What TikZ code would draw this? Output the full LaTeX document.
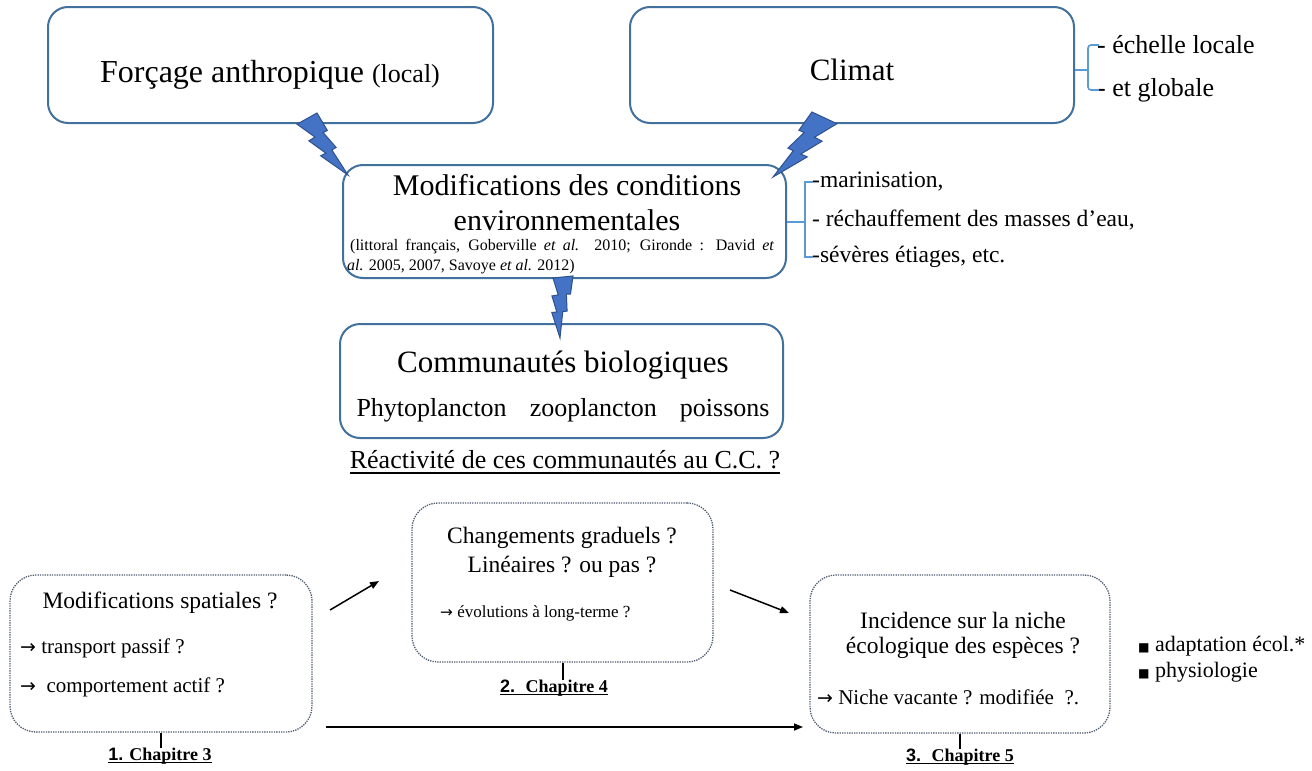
\documentclass[tikz,border=0pt]{standalone}
\usepackage{fontspec}
\setmainfont{Liberation Serif}
\newfontfamily\djv{DejaVu Sans}
\newfontfamily\arl{Liberation Sans}
\usetikzlibrary{arrows.meta,calc}
\definecolor{boxblue}{RGB}{65,113,156}
\definecolor{boltfill}{RGB}{68,114,196}
\definecolor{boltline}{RGB}{47,82,143}
\definecolor{brkblue}{RGB}{91,155,213}
\definecolor{dotgray}{RGB}{80,92,112}
\newcommand\fz[1]{\fontsize{#1pt}{#1pt}\selectfont}
\newcommand\ulx[3]{\setbox0\hbox{#3}\leavevmode\rlap{\raisebox{-#1}{\rule{\wd0}{#2}}}\box0}
\newcommand\rar{{\djv\fontsize{0.9em}{1em}\selectfont →}}
\newcommand\sqb{{\djv\fontsize{0.55em}{1em}\selectfont ■}}
\newcommand\boltshape{(0.3922,0) -- (0.5954,0.2815) -- (0.5116,0.3147) -- (0.7675,0.5559) -- (0.6837,0.5962) -- (1,1) -- (0.4635,0.6905) -- (0.5658,0.6475) -- (0.2325,0.4492) -- (0.3519,0.3881) -- (0,0.1801) -- cycle}
\tikzset{
  mainbox/.style={draw=boxblue, line width=2pt, rounded corners=20pt, fill=white, inner sep=0pt},
  dotbox/.style={draw=dotgray, line width=1.3pt, dash pattern=on 1.3pt off 1.1pt, rounded corners=26pt, fill=white, inner sep=0pt},
  bolt/.style={fill=boltfill, draw=boltline, line width=1pt, line join=miter},
  brk/.style={draw=brkblue, line width=1.6pt},
  txt/.style={inner sep=0pt, text=black},
  blkarrow/.style={draw=black, line width=1.5pt, -{Triangle[length=9pt,width=7pt]}},
  tick/.style={draw=black, line width=2pt},
}
\begin{document}
\begin{tikzpicture}[x=1pt,y=-1pt]
\useasboundingbox[fill=white] (0,0) rectangle (1312,771);

% main boxes
\node[mainbox, minimum width=445pt, minimum height=116pt] (forc) at (270.5,65) {};
\node[mainbox, minimum width=444pt, minimum height=116pt] (clim) at (852,65) {};
\node[mainbox, minimum width=443pt, minimum height=113pt] (modif) at (564.5,221.5) {};
\node[mainbox, minimum width=443pt, minimum height=114pt] (comm) at (561.5,381) {};

% main texts
\node[txt] (tforc) at (270,75) {\fz{32}Forçage anthropique {\fz{26}(local)}};
\node[txt] (tclim) at (852,70) {\fz{31}Climat};
\node[txt] (tmod1) at (567,185) {\fz{30}Modifications des conditions};
\node[txt] (tmod2) at (567,220) {\fz{30}environnementales};
\node[txt, anchor=west] (tcit1) at (350,247) {\fz{16}\makebox[424pt][s]{(littoral français, Goberville \textit{et al.} 2010; Gironde : David \textit{et}}};
\node[txt, anchor=west] (tcit2) at (347,267) {\fz{16}\textit{al.} 2005, 2007, Savoye \textit{et al.} 2012)};
\node[txt] (tcom1) at (563,365) {\fz{31}Communautés biologiques};
\node[txt] (tcom2) at (563,410) {\fz{26}\makebox[413pt][s]{Phytoplancton zooplancton poissons}};
\node[txt] (treac) at (565,462) {\fz{26}\ulx{5pt}{1.6pt}{Réactivité de ces communautés au C.C. ?}};

% Climat bracket
\node[txt, anchor=west] (ech) at (1097,45) {\fz{26}- échelle locale};
\node[txt, anchor=west] (glo) at (1097,90) {\fz{26}- et globale};
\coordinate (cb) at ($(clim.east)+(13,5)$);
\draw[brk] (clim.east |- cb) -- (cb);
\draw[brk, rounded corners=3pt] ($(ech.west)+(2,0)$) -| (cb) |- ($(glo.west)+(2,0)$);

% Modifications bracket
\node[txt, anchor=west] (mar) at (812,182) {\fz{23.5}-marinisation,};
\node[txt, anchor=west] (rec) at (812,220) {\fz{23.5}- réchauffement des masses d’eau,};
\node[txt, anchor=west] (sev) at (812,257) {\fz{23.5}-sévères étiages, etc.};
\coordinate (mb) at (805,222);
\draw[brk] (modif.east |- mb) -- (mb);
\draw[brk] ($(mar.west)+(1,0)$) -| (mb) |- ($(sev.west)+(1,0)$);

% bolts
\begin{scope}[shift={(297pt,-113pt)}, x={(51pt,0pt)}, y={(0pt,-62pt)}]
  \draw[bolt] \boltshape;
\end{scope}
\begin{scope}[shift={(837pt,-112pt)}, x={(-64pt,0pt)}, y={(0pt,-65pt)}]
  \draw[bolt] \boltshape;
\end{scope}
\begin{scope}[shift={(559.2pt,-268.8pt)}, x={(35.22pt,-18.26pt)}, y={(-34.42pt,-50.9pt)}]
  \draw[bolt] \boltshape;
\end{scope}

% bottom boxes
\node[dotbox, minimum width=302pt, minimum height=157pt] (spat) at (161,653.5) {};
\node[dotbox, minimum width=301pt, minimum height=159pt] (chang) at (562.5,582.5) {};
\node[dotbox, minimum width=300pt, minimum height=158pt] (inci) at (960,654) {};

\node[txt] (ts1) at (160,603) {\fz{23.5}Modifications spatiales ?};
\node[txt, anchor=west] (ts2) at (20,648) {\fz{21}\rar\ transport passif ?};
\node[txt, anchor=west] (ts3) at (20,687) {\fz{21}\rar\ \ comportement actif ?};

\node[txt] (tc1) at (562,538) {\fz{23.5}Changements graduels ?};
\node[txt] (tc2) at (562,567) {\fz{23.5}Linéaires ? ou pas ?};
\node[txt, anchor=west] (tc3) at (440,613) {\fz{17}\rar\ évolutions à long-terme ?};

\node[txt] (ti1) at (963,620) {\fz{23.5}Incidence sur la niche};
\node[txt] (ti2) at (963,648) {\fz{23.5}écologique des espèces ?};
\node[txt, anchor=west] (ti3) at (817,697) {\fz{21}\rar\ Niche vacante ? modifiée \ ?.};

\node[txt, anchor=west] (bul1) at (1138,646) {\fz{22}\sqb\ adaptation écol.*};
\node[txt, anchor=west] (bul2) at (1138,672) {\fz{22}\sqb\ physiologie};

% chapter labels
\node[txt] (ch3) at (160,756) {\fz{18}\bfseries\ulx{3pt}{1.5pt}{{\arl 1.} Chapitre 3}};
\node[txt] (ch4) at (554,688) {\fz{18}\bfseries\ulx{3pt}{1.5pt}{{\arl 2.} \ Chapitre 4}};
\node[txt] (ch5) at (960,757) {\fz{18}\bfseries\ulx{3pt}{1.5pt}{{\arl 3.} \ Chapitre 5}};
\draw[tick] (spat.south) -- (spat.south |- ch3.north);
\draw[tick] (chang.south) -- (chang.south |- ch4.north);
\draw[tick] (inci.south) -- (inci.south |- ch5.north);

% arrows
\coordinate (a1s) at (330,610); \coordinate (a1e) at (379,581);
\coordinate (a2s) at (730,590); \coordinate (a2e) at (789,613);
\coordinate (a3s) at (326,727); \coordinate (a3e) at (803,727);
\draw[blkarrow] (a1s) -- (a1e);
\draw[blkarrow] (a2s) -- (a2e);
\draw[blkarrow] (a3s) -- (a3e);
\end{tikzpicture}
\end{document}
